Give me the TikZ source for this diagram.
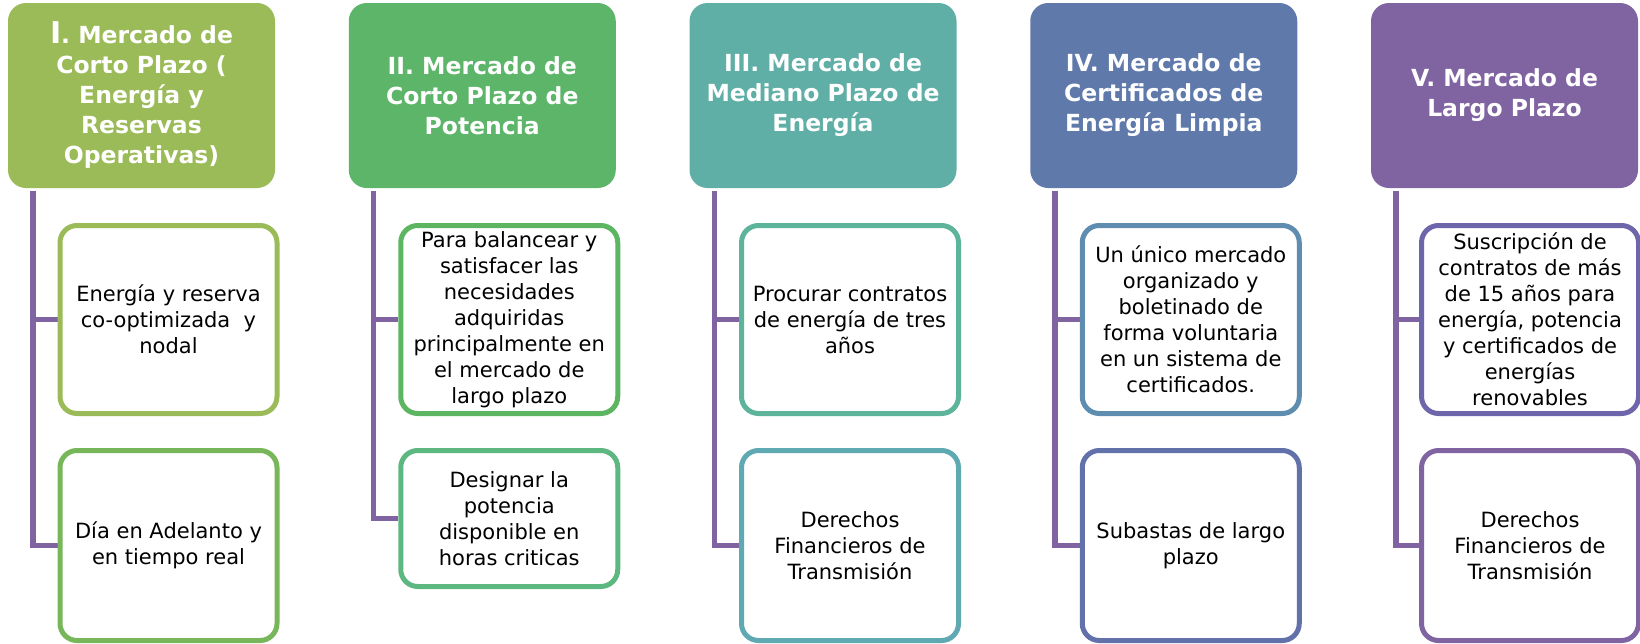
\documentclass[tikz,border=0pt]{standalone}
\usepackage{fontspec}
\setmainfont{DejaVu Sans}
\usetikzlibrary{backgrounds}
\definecolor{hA}{HTML}{9BBB59}
\definecolor{hB}{HTML}{5CB568}
\definecolor{hC}{HTML}{5FAFA6}
\definecolor{hD}{HTML}{5F7AAA}
\definecolor{hE}{HTML}{8064A2}
\definecolor{cAa}{HTML}{9BBB59}
\definecolor{cAb}{HTML}{77B75A}
\definecolor{cBa}{HTML}{5CB661}
\definecolor{cBb}{HTML}{5DB780}
\definecolor{cCa}{HTML}{5DB49B}
\definecolor{cCb}{HTML}{5EA9B2}
\definecolor{cDa}{HTML}{5E8DAF}
\definecolor{cDb}{HTML}{6371AB}
\definecolor{cEa}{HTML}{6E66AA}
\definecolor{cEb}{HTML}{8064A2}
\begin{document}
\begin{tikzpicture}[x=1pt,y=-1pt,
  head/.style={fill=#1, rounded corners=18pt, minimum width=267pt, minimum height=185pt,
    inner sep=0pt, align=center, text=white, font=\bfseries\fontsize{23.5}{30}\selectfont},
  item/.style={draw=#1, line width=5pt, fill=white, rounded corners=17pt, minimum width=217pt,
    inner sep=0pt, align=center, font=\fontsize{21}{26}\selectfont},
  conn/.style={draw=hE, line width=5.5pt, line join=miter}
]
\useasboundingbox (0,0) rectangle (1640,643);

% Column I
\node[head=hA] (h1) at (141.5,95.5) {{\fontsize{30}{30}\selectfont I}. Mercado de\\Corto Plazo (\\Energía y\\Reservas\\Operativas)};
\node[item=cAa, minimum height=188pt] (c11) at (168.5,319.5) {Energía y reserva\\co-optimizada~~y\\nodal};
\node[item=cAb, minimum height=190pt] (c12) at (168.5,545.5) {Día en Adelanto y\\en tiempo real};

% Column II
\node[head=hB] (h2) at (482.25,95.5) {II. Mercado de\\Corto Plazo de\\Potencia};
\node[item=cBa, minimum height=188pt] (c21) at (509.25,319.5) {Para balancear y\\satisfacer las\\necesidades\\adquiridas\\principalmente en\\el mercado de\\largo plazo};
\node[item=cBb, minimum height=136pt] (c22) at (509.25,518.5) {Designar la\\potencia\\disponible en\\horas criticas};

% Column III
\node[head=hC] (h3) at (823,95.5) {III. Mercado de\\Mediano Plazo de\\Energía};
\node[item=cCa, minimum height=188pt] (c31) at (850,319.5) {Procurar contratos\\de energía de tres\\años};
\node[item=cCb, minimum height=190pt] (c32) at (850,545.5) {Derechos\\Financieros de\\Transmisión};

% Column IV
\node[head=hD] (h4) at (1163.75,95.5) {IV. Mercado de\\Certificados de\\Energía Limpia};
\node[item=cDa, minimum height=188pt] (c41) at (1190.75,319.5) {Un único mercado\\organizado y\\boletinado de\\forma voluntaria\\en un sistema de\\certificados.};
\node[item=cDb, minimum height=190pt] (c42) at (1190.75,545.5) {Subastas de largo\\plazo};

% Column V
\node[head=hE] (h5) at (1504.5,95.5) {V. Mercado de\\Largo Plazo};
\node[item=cEa, minimum height=188pt] (c51) at (1530,319.5) {Suscripción de\\contratos de más\\de 15 años para\\energía, potencia\\y certificados de\\energías\\renovables};
\node[item=cEb, minimum height=190pt] (c52) at (1530,545.5) {Derechos\\Financieros de\\Transmisión};

\begin{pgfonlayer}{background}
\foreach \i in {1,...,5}{
  \coordinate (t\i) at ([xshift=25pt,yshift=-3pt]h\i.south west);
  \draw[conn] (t\i) |- (c\i2.west);
  \draw[conn] (t\i |- c\i1.west) -- (c\i1.west);
}
\end{pgfonlayer}
\end{tikzpicture}
\end{document}
